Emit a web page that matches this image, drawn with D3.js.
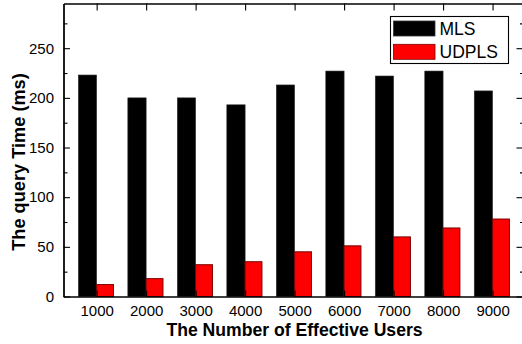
<!DOCTYPE html>
<html>
<head>
<meta charset="utf-8">
<script src="https://cdn.jsdelivr.net/npm/d3@7"></script>
<style>
  html, body { margin: 0; padding: 0; background: #fff; }
  svg { display: block; }
  text { font-family: "Liberation Sans", Arial, Helvetica, sans-serif; fill: #000; }
</style>
</head>
<body>
<svg id="chart" width="522" height="344"></svg>
<script>
// Query time per number of effective users
const categories = [1000, 2000, 3000, 4000, 5000, 6000, 7000, 8000, 9000];
const mlsValues = [223, 200, 200, 193, 213, 227, 222, 227, 207];
const udplsValues = [12, 18, 32, 35, 45, 51, 60, 69, 78];
const seriesNames = ["MLS", "UDPLS"];
const yMajorTicks = [0, 50, 100, 150, 200, 250];
const yMinorTicks = [25, 75, 125, 175, 225, 275];

const svg = d3.select("#chart");
// the right frame edge sits just past the svg's right border
const plotLeft = 63.5, plotRight = 523, plotTop = 3.5, plotBottom = 296.5;

const x = d3.scaleLinear().domain([330, 9615]).range([plotLeft, plotRight]);
const y = d3.scaleLinear().domain([0, 295]).range([plotBottom, plotTop]);

// bars: MLS to the left of each category, UDPLS to the right
const g = svg.append("g");
g.selectAll("rect.mls").data(categories).join("rect")
  .attr("class", "mls")
  .attr("x", (d) => x(d - 370))
  .attr("width", (d) => x(d) - x(d - 370))
  .attr("y", (d, i) => y(mlsValues[i]))
  .attr("height", (d, i) => y(0) - y(mlsValues[i]))
  .attr("fill", "#000")
  .attr("stroke", "#333")
  .attr("stroke-width", 0.6);

g.selectAll("rect.udpls").data(categories).join("rect")
  .attr("class", "udpls")
  .attr("x", (d) => x(d))
  .attr("width", (d) => x(d + 340) - x(d))
  .attr("y", (d, i) => y(udplsValues[i]))
  .attr("height", (d, i) => y(0) - y(udplsValues[i]))
  .attr("fill", "#ff0000")
  .attr("stroke", "#7a0000")
  .attr("stroke-width", 1);

// axes
function styleAxis(sel) {
  sel.selectAll("path.domain").attr("stroke", "#000").attr("stroke-width", 1.3);
  sel.selectAll(".tick line").attr("stroke", "#000").attr("stroke-width", 1.1);
  sel.selectAll(".tick text")
    .style("font-family", '"Liberation Sans", Arial, sans-serif')
    .style("font-size", "15px").attr("fill", "#000");
}

// bottom
svg.append("g").attr("transform", `translate(0,${plotBottom})`)
  .call(d3.axisBottom(x).tickValues(categories).tickSizeInner(-6).tickSizeOuter(0)
    .tickPadding(9).tickFormat(d3.format("d")))
  .call(styleAxis);

// top
svg.append("g").attr("transform", `translate(0,${plotTop})`)
  .call(d3.axisTop(x).tickValues(categories).tickSizeInner(-7).tickSizeOuter(0).tickFormat(""))
  .call(styleAxis);

// left
svg.append("g").attr("transform", `translate(${plotLeft},0)`)
  .call(d3.axisLeft(y).tickValues(yMajorTicks).tickSizeInner(-6.5).tickSizeOuter(0)
    .tickPadding(9.5).tickFormat(d3.format("d")))
  .call(styleAxis);
svg.append("g").attr("transform", `translate(${plotLeft},0)`)
  .call(d3.axisLeft(y).tickValues(yMinorTicks).tickSizeInner(-4).tickSizeOuter(0).tickFormat(""))
  .call(styleAxis);

// right
svg.append("g").attr("transform", `translate(${plotRight},0)`)
  .call(d3.axisRight(y).tickValues(yMajorTicks).tickSizeInner(-6.5).tickSizeOuter(0).tickFormat(""))
  .call(styleAxis);
svg.append("g").attr("transform", `translate(${plotRight},0)`)
  .call(d3.axisRight(y).tickValues(yMinorTicks).tickSizeInner(-3).tickSizeOuter(0).tickFormat(""))
  .call(styleAxis);

// axis titles
svg.append("text")
  .attr("x", 294.5).attr("y", 335.5)
  .attr("text-anchor", "middle")
  .style("font-size", "17.6px").style("font-weight", "bold")
  .text("The Number of Effective Users");

svg.append("text")
  .attr("transform", "translate(24.5,162) rotate(-90)")
  .attr("text-anchor", "middle")
  .style("font-size", "18.2px").style("font-weight", "bold")
  .text("The query Time (ms)");

// legend
const legend = svg.append("g");
legend.append("rect")
  .attr("x", 390.5).attr("y", 16.5).attr("width", 118).attr("height", 47)
  .attr("fill", "#fff").attr("stroke", "#000").attr("stroke-width", 1.1);
const swatchFill = ["#000", "#ff0000"];
const swatchStroke = ["#333", "#7a0000"];
seriesNames.forEach((name, i) => {
  legend.append("rect")
    .attr("x", 393.5).attr("y", 21 + i * 23.3)
    .attr("width", 41.5).attr("height", 15)
    .attr("fill", swatchFill[i]).attr("stroke", swatchStroke[i]).attr("stroke-width", 0.8);
  legend.append("text")
    .attr("x", 439.5).attr("y", 35 + i * 23.3)
    .style("font-size", "17.5px")
    .text(name);
});
</script>
</body>
</html>
